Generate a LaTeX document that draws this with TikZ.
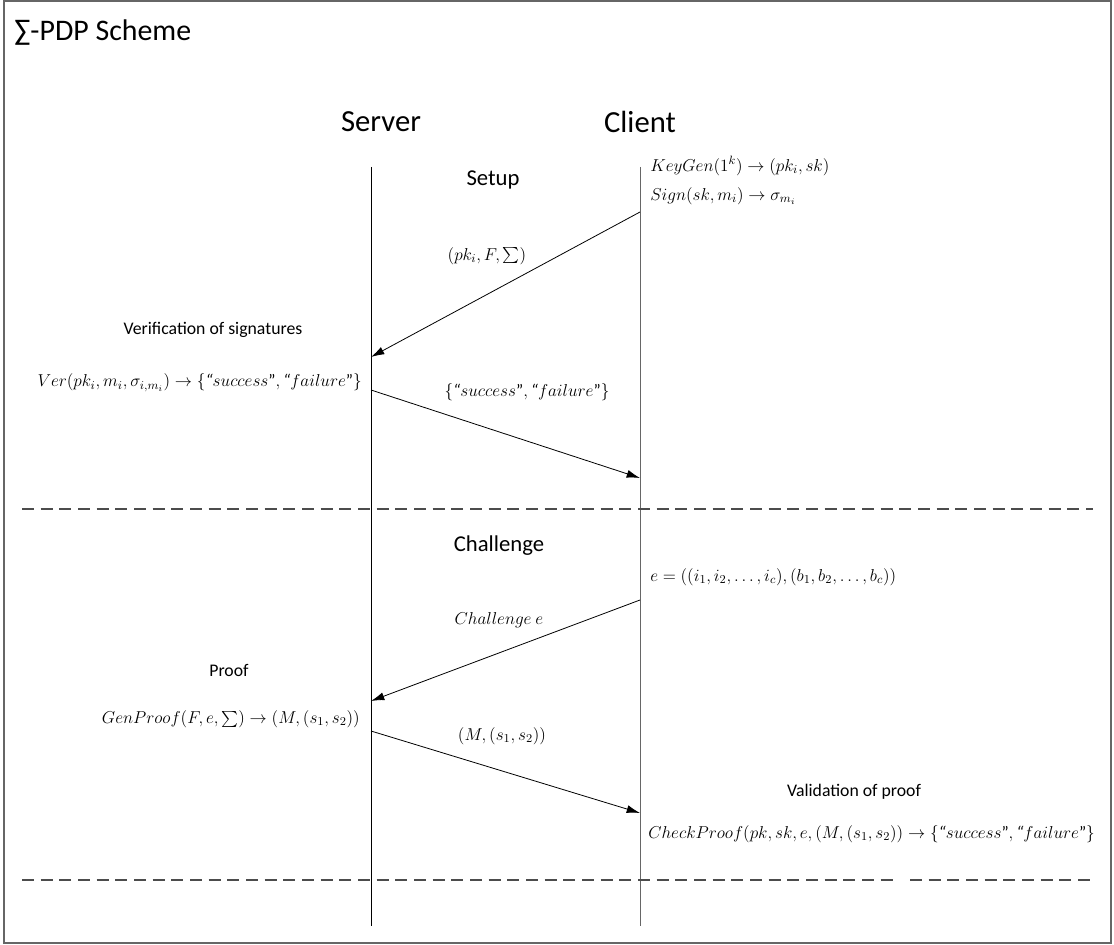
\RequirePackage{fix-cm}
\documentclass[tikz,border=0pt]{standalone}
\usepackage{fontspec}
\setmainfont{Carlito}
\usepackage{amsmath}
\usetikzlibrary{arrows.meta}
\tikzset{
  lifeline/.style={line width=0.6pt},
  clientline/.style={line width=0.6pt, draw=black!60},
  msg/.style={line width=0.6pt, -{Latex[length=10pt,width=6pt]}},
  sep/.style={line width=0.9pt, draw=black!70, dash pattern=on 9pt off 5pt},
  actor/.style={font=\fontsize{23}{27}\selectfont, inner sep=0pt},
  phase/.style={font=\fontsize{17}{20}\selectfont, inner sep=0pt},
  small/.style={font=\fontsize{13.3}{16}\selectfont, inner sep=0pt},
  mth/.style={font=\fontsize{12.9}{15.5}\selectfont, inner sep=0pt}
}
\newcommand{\qq}[1]{\text{\itshape\rmfamily“}#1\text{\rmfamily”}}
\begin{document}
\begin{tikzpicture}[x=0.75pt,y=-0.75pt]
\useasboundingbox (0,0) rectangle (1114,945);
\draw[draw=black!60, line width=1pt] (4,1) rectangle (1111,943);
\node[anchor=west, font=\fontsize{22.4}{26}\selectfont, inner sep=0pt] (title) at (14,33) {∑-PDP Scheme};

\node[actor] (server) at (381,122) {Server};
\node[actor] (client) at (640,122) {Client};

\coordinate (st) at (371,167); \coordinate (sb) at (371,926);
\coordinate (ct) at (640,167); \coordinate (cb) at (640,926);
\draw[lifeline] (st) -- (sb);
\draw[clientline] (ct) -- (cb);

\node[phase] (setup) at (493,180) {Setup};
\node[mth, anchor=west] (keygen) at (650,166) {$KeyGen(1^k)\rightarrow(pk_i,sk)$};
\node[mth, anchor=west] (sign) at (650,196) {$Sign(sk,m_i)\rightarrow\sigma_{m_i}$};

\coordinate (a1s) at (640,212); \coordinate (a1e) at (371,357);
\draw[msg] (a1s) -- (a1e);
\node[mth] (l1) at (487,256) {$(pk_i,F,\textstyle\sum)$};

\node[small] (verif) at (213,330) {Verification of signatures};
\node[mth, anchor=east] (ver) at (362,383) {$Ver(pk_i,m_i,\sigma_{i,m_i})\rightarrow\{\qq{success},\qq{failure}\}$};

\coordinate (a2s) at (371,390); \coordinate (a2e) at (640,478);
\draw[msg] (a2s) -- (a2e);
\node[mth] (l2) at (527,392) {$\{\qq{success},\qq{failure}\}$};

\coordinate (d1a) at (22,509); \coordinate (d1b) at (1093,509);
\draw[sep] (d1a) -- (d1b);

\node[phase] (chal) at (499,546) {Challenge};
\node[mth, anchor=west] (evec) at (650,577) {$e=((i_1,i_2,\ldots,i_c),(b_1,b_2,\ldots,b_c))$};

\coordinate (a3s) at (640,600); \coordinate (a3e) at (371,701);
\draw[msg] (a3s) -- (a3e);
\node[mth] (l3) at (499,620) {$Challenge\ e$};

\node[small] (proof) at (229,670) {Proof};
\node[mth, anchor=east] (genproof) at (360,719) {$GenProof(F,e,\textstyle\sum)\rightarrow(M,(s_1,s_2))$};

\coordinate (a4s) at (371,731); \coordinate (a4e) at (640,813);
\draw[msg] (a4s) -- (a4e);
\node[mth] (l4) at (502,736) {$(M,(s_1,s_2))$};

\node[small] (valid) at (854,792) {Validation of proof};
\node[mth, anchor=west] (check) at (648,834) {$CheckProof(pk,sk,e,(M,(s_1,s_2))\rightarrow\{\qq{success},\qq{failure}\}$};

\coordinate (d2a) at (22,880); \coordinate (d2b) at (893,880);
\coordinate (d2c) at (910,880); \coordinate (d2d) at (1093,880);
\draw[sep] (d2a) -- (d2b);
\draw[sep] (d2c) -- (d2d);
\end{tikzpicture}
\end{document}
